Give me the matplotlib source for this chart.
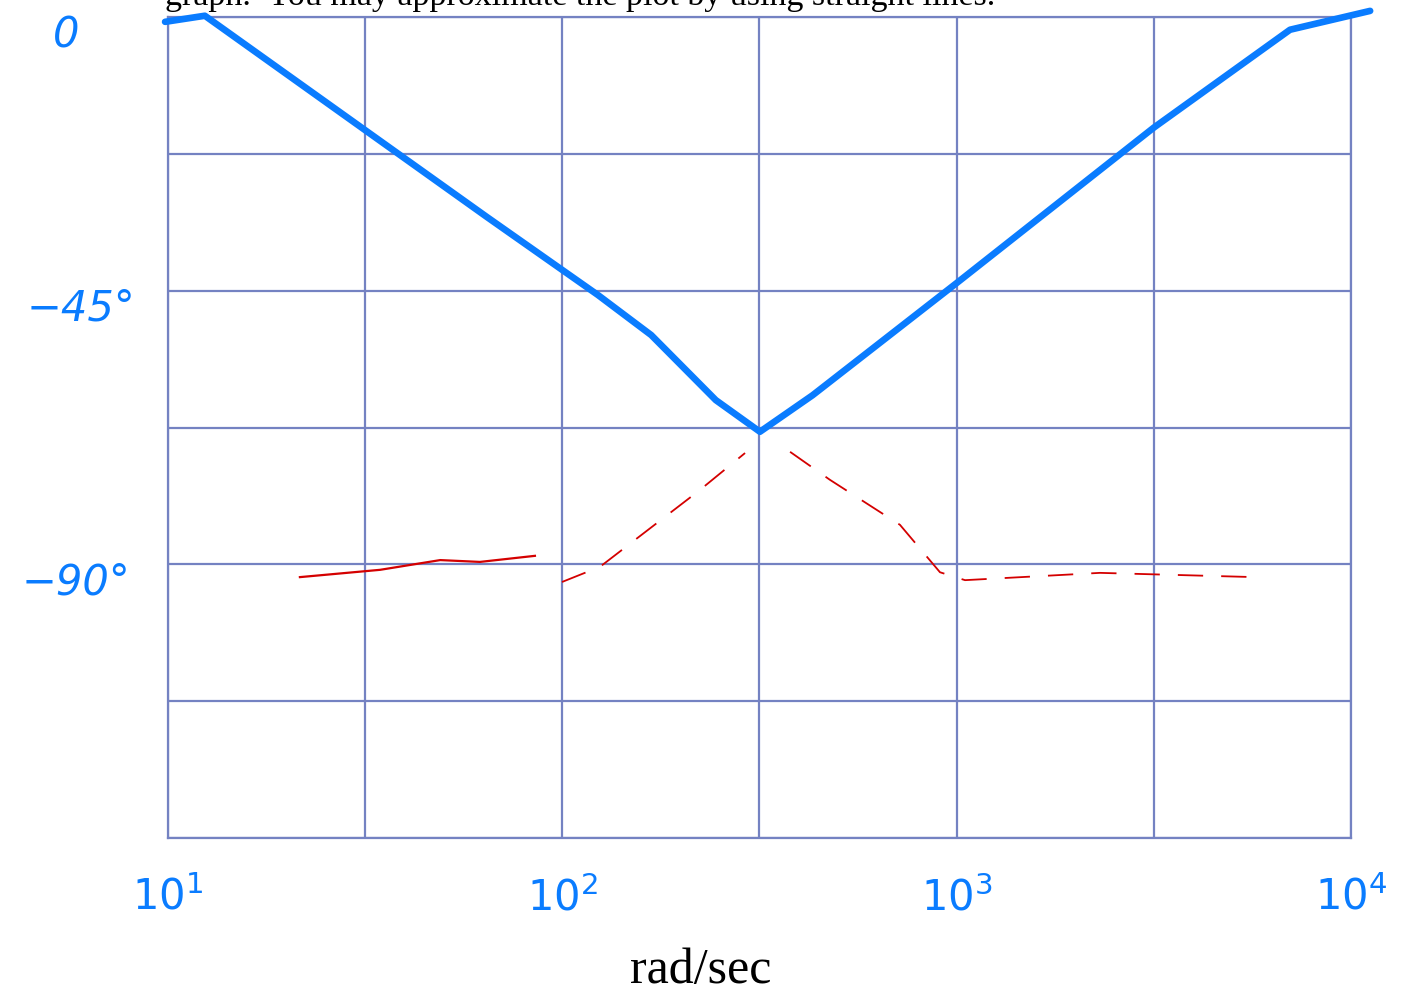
import matplotlib.pyplot as plt
from matplotlib.transforms import blended_transform_factory

# hand drawn phase sketch (blue) and the dashed red one
blue_w = [9.83, 12.4, 31.6, 64.4, 123, 168, 245, 317, 431, 1002, 3160, 7004, 11180]
blue_deg = [-0.8, 0.2, -18.6, -32.9, -45.7, -52.3, -63.0, -68.2, -62.2, -43.7, -18.2, -2.1, 1.0]

red_left_w = [21.6, 34.5, 49.0, 61.8, 85.2]
red_left_deg = [-92.1, -90.9, -89.3, -89.6, -88.6]
red_up_w = [99.8, 124.6, 223, 290.6]
red_up_deg = [-92.9, -90.4, -77.8, -71.7]
red_down_w = [378, 477, 718, 907, 1050, 2309, 5710]
red_down_deg = [-71.5, -76.1, -83.5, -91.3, -92.6, -91.4, -92.1]

x_ticks = [10, 31.6, 100, 316, 1000, 3162, 10000]
x_labels = ["$10^1$", "", "$10^2$", "", "$10^3$", "", "$10^4$"]
y_ticks = [0, -22.5, -45, -67.5, -90, -112.5, -135]
y_label_vals = [0, -45, -90]
y_label_txt = ["0", "−45°", "−90°"]
y_label_x = [-0.075, -0.028, -0.032]

blue = "#0a7cff"
red = "#d40000"
grid_c = "#7482c2"

fig = plt.figure(figsize=(14.06, 9.92), dpi=100)
ax = fig.add_axes([0.1195, 0.1552, 0.8414, 0.8277])

ax.plot(blue_w, blue_deg, color=blue, lw=4.8, solid_capstyle="round", solid_joinstyle="round",
        clip_on=False, zorder=3)
ax.plot(red_left_w, red_left_deg, color=red, lw=1.6, clip_on=False)
ax.plot(red_up_w, red_up_deg, color=red, lw=1.3, ls=(0, (14, 10)), clip_on=False)
ax.plot(red_down_w, red_down_deg, color=red, lw=1.3, ls=(0, (14, 10)), clip_on=False)

ax.set_xscale("log")
ax.set_xlim(10, 10000)
ax.set_ylim(-135, 0)
ax.set_xticks(x_ticks)
ax.set_xticklabels(x_labels)
ax.xaxis.set_minor_locator(plt.NullLocator())
ax.set_yticks(y_ticks)
ax.set_yticklabels([])
ax.grid(True, color=grid_c, lw=1.6)
for s in ax.spines.values():
    s.set_color(grid_c)
    s.set_linewidth(1.6)
ax.tick_params(length=0, labelcolor=blue, labelsize=30)
ax.tick_params(axis="x", pad=28)
for t in ax.get_xticklabels():
    t.set_fontstyle("italic")

tr = blended_transform_factory(ax.transAxes, ax.transData)
for xv, yv, s in zip(y_label_x, y_label_vals, y_label_txt):
    ax.text(xv, yv - 3, s, transform=tr, color=blue, fontsize=30, fontstyle="italic",
            ha="right", va="center")

fig.text(0.498, 0.009, "rad/sec", fontsize=36, family="Liberation Serif", ha="center", va="baseline")
fig.text(0.117, 0.995, "graph.  You may approximate the plot by using straight lines.",
         fontsize=24.5, family="Liberation Serif", ha="left", va="baseline")

fig.savefig("out.png", dpi=100)
